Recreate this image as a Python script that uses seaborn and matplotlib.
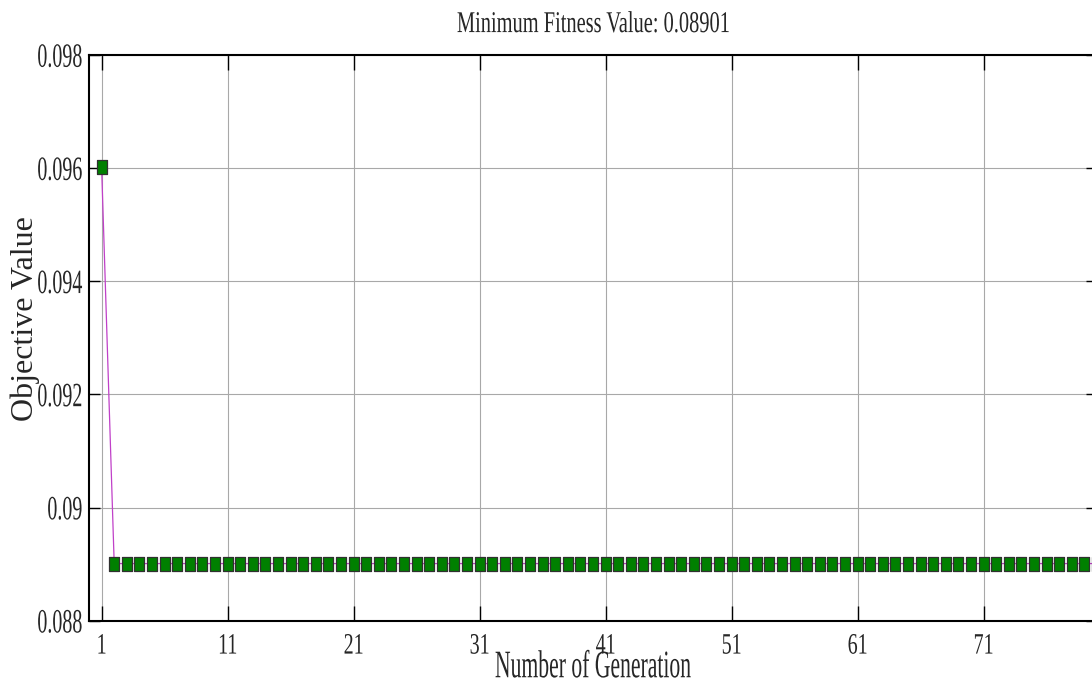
import matplotlib
matplotlib.use("Agg")
import matplotlib.pyplot as plt
import seaborn as sns
import pandas as pd
from matplotlib import patheffects
from matplotlib.transforms import Affine2D
from matplotlib.path import Path

# ---------------- data ----------------
generations = list(range(1, 81))
fitness = [0.09602,
           0.08901, 0.08901, 0.08901, 0.08901, 0.08901, 0.08901, 0.08901, 0.08901, 0.08901, 0.08901,
           0.08901, 0.08901, 0.08901, 0.08901, 0.08901, 0.08901, 0.08901, 0.08901, 0.08901, 0.08901,
           0.08901, 0.08901, 0.08901, 0.08901, 0.08901, 0.08901, 0.08901, 0.08901, 0.08901, 0.08901,
           0.08901, 0.08901, 0.08901, 0.08901, 0.08901, 0.08901, 0.08901, 0.08901, 0.08901, 0.08901,
           0.08901, 0.08901, 0.08901, 0.08901, 0.08901, 0.08901, 0.08901, 0.08901, 0.08901, 0.08901,
           0.08901, 0.08901, 0.08901, 0.08901, 0.08901, 0.08901, 0.08901, 0.08901, 0.08901, 0.08901,
           0.08901, 0.08901, 0.08901, 0.08901, 0.08901, 0.08901, 0.08901, 0.08901, 0.08901, 0.08901,
           0.08901, 0.08901, 0.08901, 0.08901, 0.08901, 0.08901, 0.08901, 0.08901, 0.08901]
xtick_values = [1, 11, 21, 31, 41, 51, 61, 71]
xtick_labels = ["1", "11", "21", "31", "41", "51", "61", "71"]
ytick_values = [0.088, 0.090, 0.092, 0.094, 0.096, 0.098]
ytick_labels = ["0.088", "0.09", "0.092", "0.094", "0.096", "0.098"]
title_text = "Minimum Fitness Value: 0.08901"
xlabel_text = "Number of Generation"
ylabel_text = "Objective Value"

df = pd.DataFrame({"generation": generations, "fitness": fitness})


class Stretch(patheffects.AbstractPathEffect):
    """Stretch glyphs in their local frame (text stays real text)."""
    def __init__(self, sx=1.0, sy=1.0, cy=0.0):
        super().__init__()
        self.sx, self.sy, self.cy = sx, sy, cy

    def draw_path(self, renderer, gc, tpath, affine, rgbFace=None):
        t = Affine2D().translate(0, -self.cy).scale(self.sx, self.sy).translate(0, self.cy)
        renderer.draw_path(gc, tpath, t + affine, rgbFace)


sns.set_style("white")
plt.rcParams["font.family"] = ["Liberation Serif", "DejaVu Serif"]

W, H = 1092, 693
fig = plt.figure(figsize=(W / 100, H / 100), dpi=100)
left_px, right_px, top_px, bottom_px = 89, 1097, 55, 620.7
ax = fig.add_axes([left_px / W, 1 - bottom_px / H,
                   (right_px - left_px) / W, (bottom_px - top_px) / H])

rect_marker = Path([(-1, -1.5), (1, -1.5), (1, 1.5), (-1, 1.5), (-1, -1.5)],
                   [Path.MOVETO, Path.LINETO, Path.LINETO, Path.LINETO, Path.CLOSEPOLY])

sns.lineplot(data=df, x="generation", y="fitness", ax=ax,
             color="#C040C8", linewidth=0.9,
             marker=rect_marker, markersize=10.2,
             markerfacecolor="#008000", markeredgecolor="#303030",
             markeredgewidth=0.9, zorder=3)

ax.set_xlim(0, 80)
ax.set_ylim(0.088, 0.098)

ax.set_xticks(xtick_values)
ax.set_xticklabels(xtick_labels)
ax.set_yticks(ytick_values)
ax.set_yticklabels(ytick_labels)

ax.tick_params(axis="x", direction="in", length=10.6, width=1.0, color="black",
               top=True, bottom=True, pad=8.9, labelsize=14.4)
ax.tick_params(axis="y", direction="in", length=7.7, width=1.0, color="black",
               left=True, right=True, pad=4.7, labelsize=14.4)

for lab in ax.get_xticklabels():
    lab.set_path_effects([Stretch(sy=1.48, cy=68)])
for lab in ax.get_yticklabels():
    lab.set_path_effects([Stretch(sy=1.7, cy=34)])

ax.grid(True, color="#a8a8a8", linewidth=0.8)
ax.set_axisbelow(True)

for sp in ax.spines.values():
    sp.set_visible(True)
    sp.set_color("black")
    sp.set_linewidth(1.5)

ax.set_title(title_text, fontsize=14.7, pad=16.5, path_effects=[Stretch(sy=1.48)])
ax.set_xlabel(xlabel_text, fontsize=15.6, path_effects=[Stretch(sy=1.8, cy=66)])
ax.xaxis.set_label_coords(0.5, -0.055)
ax.set_ylabel(ylabel_text, fontsize=23)
ax.yaxis.set_label_coords(-0.0486, 0.534)

fig.savefig("out.png", dpi=100)
